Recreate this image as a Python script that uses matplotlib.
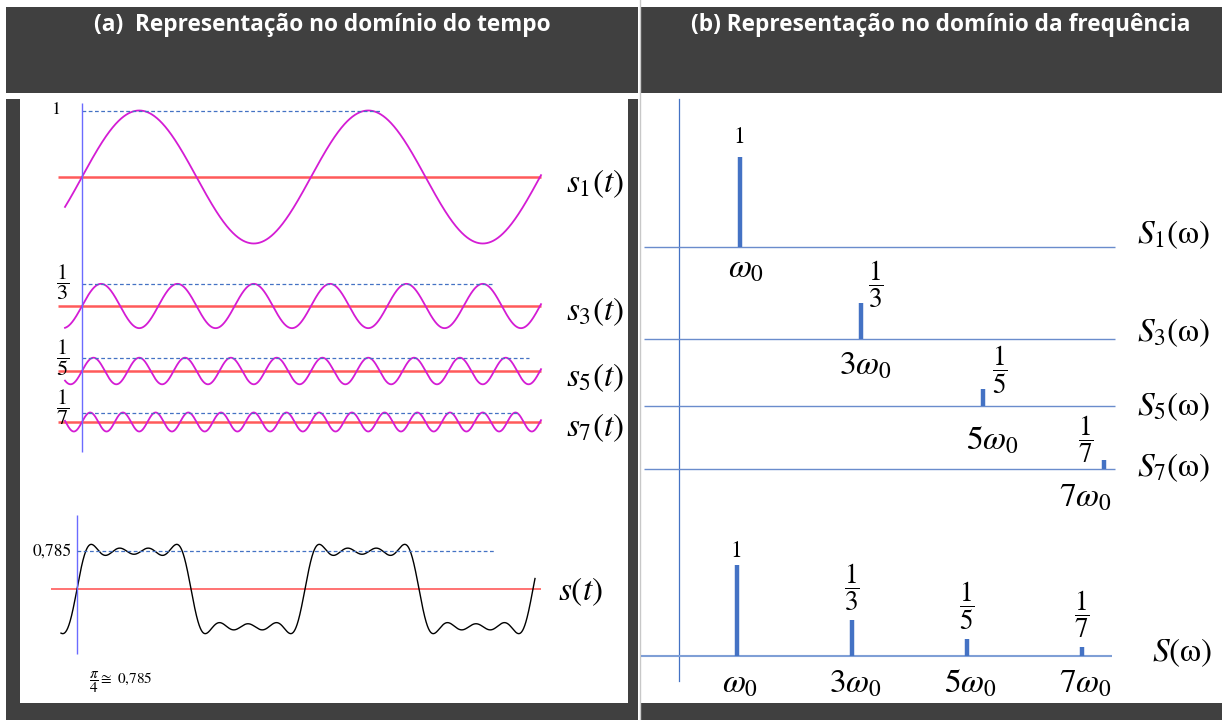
import numpy as np
import matplotlib
matplotlib.use('Agg')
import matplotlib.pyplot as plt
from matplotlib.patches import Rectangle

plt.rcParams['mathtext.fontset'] = 'stix'

# ---- data ----
harmonics = [1, 3, 5, 7]
amplitudes = [1, 1/3, 1/5, 1/7]
stem_heights = [1.0, 0.40, 0.19, 0.10]      # drawn stem heights (relative to omega0)
amp_labels = ['1', r'$\dfrac{1}{3}$', r'$\dfrac{1}{5}$', r'$\dfrac{1}{7}$']
freq_labels = [r'$\omega_0$', r'$3\omega_0$', r'$5\omega_0$', r'$7\omega_0$']
time_names = [r'$s_1(t)$', r'$s_3(t)$', r'$s_5(t)$', r'$s_7(t)$']
spec_names = [r'$S_1$(ω)', r'$S_3$(ω)', r'$S_5$(ω)', r'$S_7$(ω)']
avg_level = np.pi / 4
avg_text = '0,785'
title_a = '(a)  Representação no domínio do tempo'
title_b = '(b) Representação no domínio da frequência'

# ---- layout (pixels) ----
W, H = 1222, 720
dark = '#404040'
magenta = '#d41cd4'
red = '#ff5a5a'
blue = '#4472c4'
violet = '#6b6bff'


def box(x0, y0, x1, y1):
    return [x0 / W, 1 - y1 / H, (x1 - x0) / W, (y1 - y0) / H]


fig = plt.figure(figsize=(12.22, 7.2), dpi=100)
fig.patch.set_facecolor('white')

bg = fig.add_axes([0, 0, 1, 1])
bg.set_xlim(0, W)
bg.set_ylim(H, 0)
bg.axis('off')
for (x, y, w, h) in [(6, 7, 632, 86), (641, 7, 581, 86),
                     (6, 99, 14, 621), (628, 99, 10, 621), (6, 703, 632, 17),
                     (641, 703, 581, 17)]:
    bg.add_patch(Rectangle((x, y), w, h, color=dark, lw=0))
bg.plot([639.5, 639.5], [0, H], color='#c8c8c8', lw=1)
bg.text(322, 25, title_a, color='white', fontsize=16.3, fontweight='bold',
        family='Open Sans', ha='center', va='center')
bg.text(941, 25, title_b, color='white', fontsize=16.3, fontweight='bold',
        family='Open Sans', ha='center', va='center')
# frequency axis (vertical) on the right panel
bg.plot([679, 679], [99, 681], color=blue, lw=0.9)

# ---- (a) harmonics ----
k = 229 / (2 * np.pi)      # px per rad
ua = 66.5                  # px per amplitude unit
row_px = [177, 306, 371, 422]
dash_end = [8.23, 11.30, 12.26, 11.93]
frac_dy = [0, 0.03, 0, 0.08]
axh = fig.add_axes(box(20, 99, 628, 460))
axh.set_xlim((20 - 82) / k, (628 - 82) / k)
axh.set_ylim((177 - 460) / ua, (177 - 99) / ua)
axh.axis('off')
t = np.linspace((65 - 82) / k, (541 - 82) / k, 3000)
t_end = t[-1]
for i, (n, a) in enumerate(zip(harmonics, amplitudes)):
    off = (177 - row_px[i]) / ua
    axh.hlines(off, (58 - 82) / k, t_end, color=red, lw=1.8, zorder=1)
    axh.plot(t, off + a * np.sin(n * t), color=magenta, lw=1.3, zorder=2)
    axh.hlines(off + a, 0, dash_end[i], color=blue, lw=0.9, ls=(0, (3, 2)))
    if i == 0:
        axh.text((57 - 82) / k, off + a, amp_labels[i], fontsize=13,
                 family='STIXGeneral', ha='center', va='center')
    else:
        axh.text((63 - 82) / k, off + a + frac_dy[i], amp_labels[i],
                 fontsize=16, ha='center', va='center')
    axh.annotate(time_names[i], (t_end, off), xytext=(25, -6),
                 textcoords='offset pixels', fontsize=24, va='center')
axh.vlines(0, (177 - 452) / ua, (177 - 103) / ua, color=violet, lw=1)

# ---- (a) sum ----
ks = 228 / (2 * np.pi)
us = 48
axs = fig.add_axes(box(20, 460, 628, 703))
axs.set_xlim((20 - 77) / ks, (628 - 77) / ks)
axs.set_ylim((589 - 703) / us, (589 - 460) / us)
axs.axis('off')
ts = np.linspace((61 - 77) / ks, (535 - 77) / ks, 3000)
s = sum(a * np.sin(n * ts) for n, a in zip(harmonics, amplitudes))
axs.hlines(0, (51 - 77) / ks, (541 - 77) / ks, color=red, lw=1.2)
axs.plot(ts, s, color='black', lw=1)
axs.vlines(0, (589 - 654) / us, (589 - 515) / us, color=violet, lw=1)
axs.hlines(avg_level, 0, (495 - 77) / ks, color=blue, lw=0.9, ls=(0, (3, 2)))
axs.text(-0.14, avg_level, avg_text, family='STIXGeneral', fontsize=12.5,
         ha='right', va='center')
axs.text((89 - 77) / ks, (589 - 682) / us, r'$\dfrac{\pi}{4}\cong$' + ' 0,785',
         family='STIXGeneral', fontsize=11, ha='left', va='center')
axs.annotate(r'$s(t)$', ((541 - 77) / ks, 0), xytext=(17, -3),
             textcoords='offset pixels', fontsize=24, va='center')

# ---- (b) spectra per harmonic ----
ur = 60.7
vr = 90
base_px = [247, 339, 406, 469]
amp_dx = [0, 15, 17, -18]
amp_dy = [20, 19, 19, 21]
frq_dx = [6, 4, 10, -19]
frq_dy = [21, 26, 34, 28]
name_dy = [12, 6, -1, 1]
axr = fig.add_axes(box(641, 97, 1222, 520))
axr.set_xlim((641 - 679) / ur, (1222 - 679) / ur)
axr.set_ylim((247 - 520) / vr, (247 - 97) / vr)
axr.axis('off')
x_end = (1115 - 679) / ur
for i, (n, h) in enumerate(zip(harmonics, stem_heights)):
    off = (247 - base_px[i]) / vr
    axr.hlines(off, (644 - 679) / ur, x_end, color='#6a8ccc', lw=1)
    axr.vlines(n, off, off + h, color=blue, lw=3.2)
    if i == 0:
        axr.annotate(amp_labels[i], (n, off + h), xytext=(amp_dx[i], amp_dy[i]),
                     textcoords='offset pixels', family='STIXGeneral',
                     fontsize=17, ha='center', va='center')
    else:
        axr.annotate(amp_labels[i], (n, off + h), xytext=(amp_dx[i], amp_dy[i]),
                     textcoords='offset pixels', fontsize=19.5,
                     ha='center', va='center')
    axr.annotate(freq_labels[i], (n, off), xytext=(frq_dx[i], -frq_dy[i]),
                 textcoords='offset pixels', fontsize=24,
                 ha='center', va='center')
    axr.annotate(spec_names[i], (x_end, off), xytext=(22, name_dy[i]),
                 textcoords='offset pixels', family='STIXGeneral',
                 fontsize=24, va='center')

# ---- (b) full spectrum ----
ub = 57.5
vb = 91
axb = fig.add_axes(box(641, 520, 1222, 703))
axb.set_xlim((641 - 679) / ub, (1222 - 679) / ub)
axb.set_ylim((656 - 703) / vb, (656 - 520) / vb)
axb.axis('off')
xb_end = (1112 - 679) / ub
axb.hlines(0, (641 - 679) / ub, xb_end, color='#7f9fd6', lw=1.5)
for i, (n, h) in enumerate(zip(harmonics, stem_heights)):
    axb.vlines(n, 0, h, color=blue, lw=3.2)
    if i == 0:
        axb.annotate(amp_labels[i], (n, h), xytext=(0, 3),
                     textcoords='offset pixels', family='STIXGeneral',
                     fontsize=17, ha='center', va='bottom')
    else:
        axb.annotate(amp_labels[i], (n, h), xytext=(0, 7),
                     textcoords='offset pixels', fontsize=19.5,
                     ha='center', va='bottom')
    axb.annotate(freq_labels[i], (n, 0), xytext=(4, -27),
                 textcoords='offset pixels', fontsize=24,
                 ha='center', va='center')
axb.annotate(r'$S$(ω)', (xb_end, 0), xytext=(40, 3),
             textcoords='offset pixels', family='STIXGeneral',
             fontsize=24, va='center')

fig.savefig('out.png', dpi=100)
